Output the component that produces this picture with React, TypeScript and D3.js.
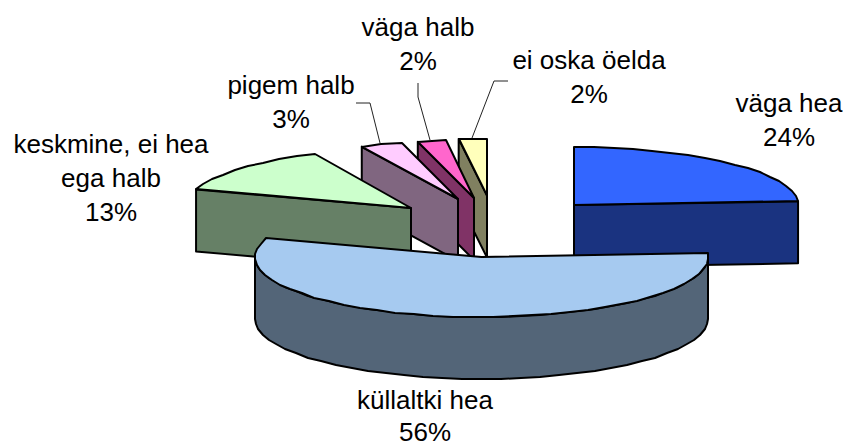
import React from "react";
import * as d3 from "d3";

const categories = ["väga hea", "küllaltki hea", "keskmine, ei hea ega halb", "pigem halb", "väga halb", "ei oska öelda"];
const values = [24, 56, 13, 3, 2, 2];
const topColors = ["#3366FF", "#A6CAF0", "#CCFFCC", "#FFCCFF", "#FF66CC", "#FFFFBB"];
const sideColors = ["#1A3380", "#536578", "#668066", "#806680", "#803366", "#808060"];

// Exploded-slice geometry on the canvas
const apexX = [574, 481.5, 411, 458, 474, 487];
const apexY = [205, 257, 208, 199, 198, 195.5];
const radiusX = [224.5, 226.5, 226, 226, 226, 226];
const radiusY = [58, 60, 60, 58, 58, 57];
const depths = [62, 62, 62, 62, 62, 62];
const drawOrder = [5, 4, 3, 2, 0, 1];

const labelLines = [["väga hea", "24%"], ["küllaltki hea", "56%"], ["keskmine, ei hea", "ega halb", "13%"], ["pigem halb", "3%"], ["väga halb", "2%"], ["ei oska öelda", "2%"]];
const labelX = [789, 425, 111, 291, 418, 589];
const labelBaseline = [112, 409, 153, 94, 36, 69];
const labelStep = [33.8, 31.5, 33.8, 33.8, 33.8, 33.8];
const leaders: ([number, number][] | null)[] = [
  null, null, null,
  [[356, 103], [370, 103], [380, 143]],
  [[418, 83], [418, 97], [430, 140]],
  [[508, 81], [494, 81], [472, 138]],
];

const arcs = d3.pie<number>().sort(null).startAngle(0).endAngle(2 * Math.PI)(values);
const toPath = d3.line<[number, number]>().x(d => d[0]).y(d => d[1]);
const leaderPath = d3.line<[number, number]>().x(d => d[0]).y(d => d[1]);

function point(i: number, a: number, dy = 0): [number, number] {
  return [apexX[i] + radiusX[i] * Math.sin(a), apexY[i] - radiusY[i] * Math.cos(a) + dy];
}
function arcPoints(i: number, a0: number, a1: number, dy = 0): [number, number][] {
  const n = Math.max(1, Math.round(Math.abs(a1 - a0) / (Math.PI / 36)));
  return d3.range(n + 1).map(k => {
    const p = point(i, a0 + ((a1 - a0) * k) / n, dy);
    return [Math.round(p[0]), Math.round(p[1])] as [number, number];
  });
}
function radialFace(i: number, a: number): [number, number][] {
  const d = depths[i];
  return [[apexX[i], apexY[i]], point(i, a), point(i, a, d), [apexX[i], apexY[i] + d]];
}

export default function App() {
  return (
    <svg width={843} height={442} style={{ position: "absolute", left: 0, top: 0, display: "block" }}
      fontFamily="'Liberation Sans', Arial, sans-serif">
      {drawOrder.map(i => {
        const { startAngle: s, endAngle: e } = arcs[i];
        const stroke = { stroke: "#000", strokeWidth: 2, strokeLinejoin: "round" as const };
        const wallA = Math.max(s, Math.PI / 2);
        const wallB = Math.min(e, (3 * Math.PI) / 2);
        const top = [[apexX[i], apexY[i]] as [number, number], ...arcPoints(i, s, e)];
        return (
          <g key={categories[i]}>
            {Math.sin(s) < -1e-9 && <path d={toPath(radialFace(i, s)) + "Z"} fill={sideColors[i]} {...stroke} />}
            {Math.sin(e) > 1e-9 && <path d={toPath(radialFace(i, e)) + "Z"} fill={sideColors[i]} {...stroke} />}
            {wallB > wallA && (
              <path
                d={toPath([...arcPoints(i, wallA, wallB), ...arcPoints(i, wallB, wallA, depths[i])]) + "Z"}
                fill={sideColors[i]} {...stroke} />
            )}
            <path d={toPath(top) + "Z"} fill={topColors[i]} {...stroke} />
          </g>
        );
      })}
      {leaders.map((l, i) => l && <path key={i} d={leaderPath(l)!} fill="none" stroke="#222" strokeWidth={1} />)}
      {labelLines.map((lines, i) => (
        <text key={i} textAnchor="middle" fontSize={26} fill="#000">
          {lines.map((t, k) => (
            <tspan key={k} x={labelX[i]} y={labelBaseline[i] + k * labelStep[i]}>{t}</tspan>
          ))}
        </text>
      ))}
    </svg>
  );
}
